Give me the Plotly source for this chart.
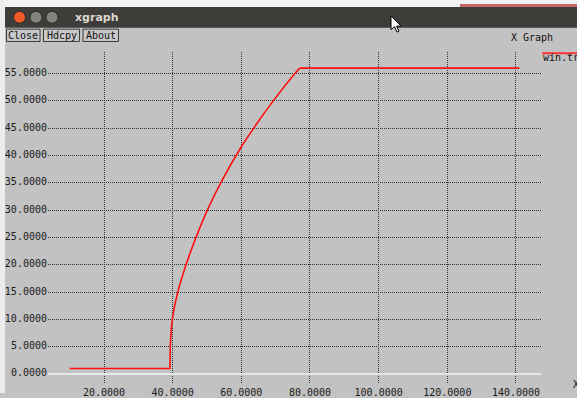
import plotly.graph_objects as go

W, H = 577, 398

# data (win.tr : congestion window vs time)
time_s = [10.0, 39.2, 39.3, 39.9, 41.5, 43.9, 46.8, 50.1, 54.0, 60.0, 64.7, 69.3, 75.6, 77.0, 141.0]
cwnd = [1.0, 1.0, 5.0, 10.0, 15.0, 20.0, 25.0, 30.0, 35.0, 41.6, 46.0, 50.0, 55.0, 56.0, 56.0]
x_ticks = [20, 40, 60, 80, 100, 120, 140]
y_ticks = [0, 5, 10, 15, 20, 25, 30, 35, 40, 45, 50, 55]
buttons = ["Close", "Hdcpy", "About"]
legend_name = "win.tr"


def px(x):
    return x / W


def py(y):
    return 1 - y / H


BG = "#c2c2c2"
MONO = "DejaVu Sans Mono"
RED = "#ff1010"

fig = go.Figure()
# flat start, smooth growth, flat end
fig.add_trace(go.Scatter(x=time_s[:3], y=cwnd[:3], mode="lines",
                         line=dict(color=RED, width=1.6), showlegend=False))
fig.add_trace(go.Scatter(x=time_s[2:14], y=cwnd[2:14], mode="lines",
                         line=dict(color=RED, width=1.6, shape="spline", smoothing=0.9),
                         showlegend=False))
fig.add_trace(go.Scatter(x=time_s[13:], y=cwnd[13:], mode="lines",
                         line=dict(color=RED, width=1.6), name=legend_name, showlegend=False))

fig.update_layout(
    width=W, height=H,
    margin=dict(l=0, r=0, t=0, b=0),
    paper_bgcolor=BG, plot_bgcolor=BG,
    xaxis=dict(domain=[px(48), px(541)], range=[3.688, 147.29],
               tickvals=x_ticks, ticktext=[f"{v:.4f}" for v in x_ticks],
               showgrid=True, gridcolor="#303030", griddash="1px,1px", gridwidth=1,
               zeroline=False, showline=False, ticks="", ticklabelstandoff=2,
               tickfont=dict(family=MONO, size=10, color="#1a1a1a")),
    yaxis=dict(domain=[py(388), py(53)], range=[-1.681, 58.887],
               tickvals=y_ticks, ticktext=[f"{v:.4f}" for v in y_ticks],
               showgrid=True, gridcolor="#303030", griddash="1px,1px", gridwidth=1,
               zeroline=True, zerolinecolor="#e8e8e8", zerolinewidth=2,
               showline=False, ticks="", ticklabelshift=-1,
               tickfont=dict(family=MONO, size=10, color="#1a1a1a")),
)

shapes = []
# top strip and left edge
shapes.append(dict(type="rect", xref="paper", yref="paper", x0=0, x1=1, y0=py(7), y1=1,
                   fillcolor="#f2f2f2", line=dict(width=0), layer="above"))
shapes.append(dict(type="rect", xref="paper", yref="paper", x0=px(460), x1=1, y0=py(4), y1=py(7),
                   fillcolor="#c86a6a", line=dict(width=0), layer="above"))
shapes.append(dict(type="rect", xref="paper", yref="paper", x0=0, x1=px(5), y0=0, y1=1,
                   fillcolor="#ececec", line=dict(width=0), layer="above"))
# title bar
shapes.append(dict(type="rect", xref="paper", yref="paper", x0=px(5), x1=1, y0=py(28), y1=py(7),
                   fillcolor="#3e3d39", line=dict(width=0), layer="above"))
# window buttons
for cx, col in [(19.5, "#ee5a2a"), (36, "#84837e"), (52, "#84837e")]:
    r = 6
    shapes.append(dict(type="circle", xref="paper", yref="paper",
                       x0=px(cx - r), x1=px(cx + r), y0=py(17.5 + r), y1=py(17.5 - r),
                       fillcolor=col, line=dict(color="#2c2b28", width=1), layer="above"))
# xgraph buttons
btn_x = [(6.5, 40), (43.5, 79.5), (83, 118.5)]
for (x0, x1) in btn_x:
    shapes.append(dict(type="rect", xref="paper", yref="paper",
                       x0=px(x0), x1=px(x1), y0=py(42), y1=py(29.5),
                       fillcolor="#c8c8c8", line=dict(color="#3a3a3a", width=1), layer="above"))
# legend line
shapes.append(dict(type="line", xref="paper", yref="paper", x0=px(542), x1=1,
                   y0=py(54), y1=py(54), line=dict(color="#ff3030", width=2), layer="above"))
# mouse cursor
pts = [(391, 16), (391, 30), (394.5, 27), (397, 32.5), (399, 31.5), (396.5, 26.5), (401, 26.5)]
path = "M " + " L ".join(f"{px(a):.5f},{py(b):.5f}" for a, b in pts) + " Z"
shapes.append(dict(type="path", xref="paper", yref="paper", path=path,
                   fillcolor="#ffffff", line=dict(color="#000000", width=1), layer="above"))
fig.update_layout(shapes=shapes)

ann = []
ann.append(dict(text="<b>xgraph</b>", x=px(73), y=py(17.5), xref="paper", yref="paper",
                xanchor="left", yanchor="middle", showarrow=False,
                font=dict(family="DejaVu Sans", size=11, color="#dcd8cf")))
for (x0, x1), label in zip(btn_x, buttons):
    ann.append(dict(text=label, x=px((x0 + x1) / 2), y=py(35.8), xref="paper", yref="paper",
                    xanchor="center", yanchor="middle", showarrow=False,
                    font=dict(family=MONO, size=10, color="#111111")))
ann.append(dict(text="X Graph", x=px(509), y=py(38.3), xref="paper", yref="paper",
                xanchor="left", yanchor="middle", showarrow=False,
                font=dict(family=MONO, size=10, color="#111111")))
ann.append(dict(text=legend_name, x=px(541), y=py(58), xref="paper", yref="paper",
                xanchor="left", yanchor="middle", showarrow=False,
                font=dict(family=MONO, size=10, color="#111111")))
ann.append(dict(text="X", x=px(571), y=py(389), xref="paper", yref="paper",
                xanchor="left", yanchor="middle", showarrow=False,
                font=dict(family=MONO, size=10, color="#111111")))
fig.update_layout(annotations=ann)

fig.write_html("out.html")
